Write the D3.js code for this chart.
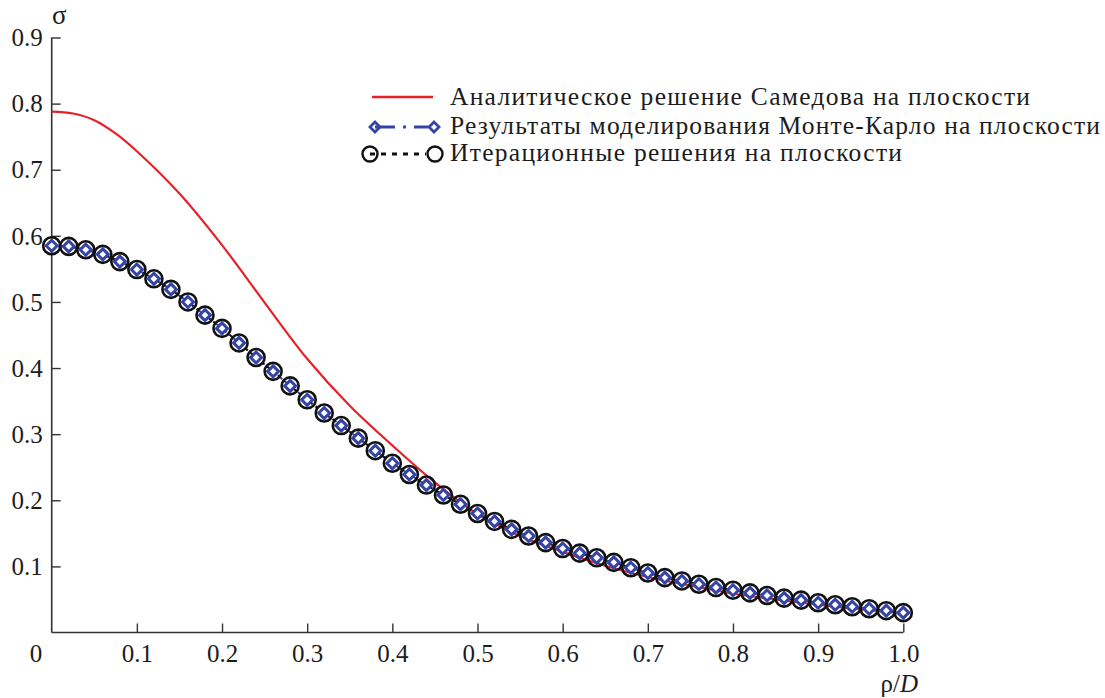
<!DOCTYPE html>
<html>
<head>
<meta charset="utf-8">
<script src="https://cdn.jsdelivr.net/npm/d3@7"></script>
<style>
  html, body { margin: 0; padding: 0; background: #fff; }
  svg text { font-family: "Liberation Serif", "Times New Roman", Times, "DejaVu Serif", serif !important; fill: #1c1c1c; }
</style>
</head>
<body>
<svg id="graph" width="1105" height="698"></svg>
<script>
// rho/D for the red analytic curve
var rhoAnalytic = [0, 0.025, 0.05, 0.075, 0.10, 0.15, 0.20, 0.25, 0.30, 0.35, 0.40, 0.45, 0.50,
  0.55, 0.60, 0.65, 0.70, 0.75, 0.80, 0.85, 0.90, 0.95, 1.00];
var sigmaAnalytic = [0.788, 0.785, 0.775, 0.755, 0.728, 0.664, 0.586, 0.499, 0.414, 0.343, 0.283, 0.227, 0.179,
  0.146, 0.122, 0.101, 0.084, 0.071, 0.059, 0.050, 0.042, 0.035, 0.029];

// rho/D of the marker series (step 0.02)
var rhoPoints = [0, 0.02, 0.04, 0.06, 0.08, 0.10, 0.12, 0.14, 0.16, 0.18, 0.20,
  0.22, 0.24, 0.26, 0.28, 0.30, 0.32, 0.34, 0.36, 0.38, 0.40,
  0.42, 0.44, 0.46, 0.48, 0.50, 0.52, 0.54, 0.56, 0.58, 0.60,
  0.62, 0.64, 0.66, 0.68, 0.70, 0.72, 0.74, 0.76, 0.78, 0.80,
  0.82, 0.84, 0.86, 0.88, 0.90, 0.92, 0.94, 0.96, 0.98, 1.00];
var sigmaMonteCarlo = [0.585, 0.584, 0.579, 0.572, 0.561, 0.549, 0.535, 0.519, 0.500, 0.480, 0.460,
  0.438, 0.416, 0.395, 0.373, 0.352, 0.332, 0.313, 0.294, 0.275, 0.256,
  0.239, 0.223, 0.208, 0.194, 0.180, 0.168, 0.156, 0.146, 0.136, 0.127,
  0.120, 0.113, 0.106, 0.098, 0.090, 0.083, 0.078, 0.073, 0.068, 0.064,
  0.060, 0.056, 0.052, 0.049, 0.045, 0.042, 0.039, 0.036, 0.033, 0.030];
var sigmaIter = [0.585, 0.584, 0.579, 0.572, 0.561, 0.549, 0.535, 0.519, 0.500, 0.480, 0.460,
  0.438, 0.416, 0.395, 0.373, 0.352, 0.332, 0.313, 0.294, 0.275, 0.256,
  0.239, 0.223, 0.208, 0.194, 0.180, 0.168, 0.156, 0.146, 0.136, 0.127,
  0.120, 0.113, 0.106, 0.098, 0.090, 0.083, 0.078, 0.073, 0.068, 0.064,
  0.060, 0.056, 0.052, 0.049, 0.045, 0.042, 0.039, 0.036, 0.033, 0.030];

var xTicks = [0.1, 0.2, 0.3, 0.4, 0.5, 0.6, 0.7, 0.8, 0.9, 1.0];
var yTicks = [0.1, 0.2, 0.3, 0.4, 0.5, 0.6, 0.7, 0.8, 0.9];

var legendLabels = [
  "Аналитическое решение Самедова на плоскости",
  "Результаты моделирования Монте-Карло на плоскости",
  "Итерационные решения на плоскости"
];

var red = "#e8202a", blue = "#3444a6", axisCol = "#333";
var serif = "'Liberation Serif', 'Times New Roman', Times, 'DejaVu Serif', serif";

var svg = d3.select("#graph");

var x = d3.scaleLinear().domain([0, 1]).range([51.7, 903.3]);
var y = d3.scaleLinear().domain([0, 0.9]).range([632.5, 37.5]);

// axes
var xAxis = svg.append("g")
  .attr("transform", "translate(0," + y(0) + ")")
  .call(d3.axisBottom(x).tickValues(xTicks).tickSize(-9).tickPadding(0).tickFormat(d3.format(".1f")));
xAxis.attr("font-family", serif).attr("font-size", 25);
xAxis.select(".domain").attr("stroke", axisCol).attr("stroke-width", 1.6).attr("d", "M" + x(0) + ",0H" + x(1));
xAxis.selectAll(".tick line").attr("stroke", axisCol).attr("stroke-width", 1.4);
xAxis.selectAll(".tick text").attr("y", 29).attr("dy", 0);

var yAxis = svg.append("g")
  .attr("transform", "translate(" + x(0) + ",0)")
  .call(d3.axisLeft(y).tickValues(yTicks).tickSize(-9).tickPadding(0).tickFormat(d3.format(".1f")));
yAxis.attr("font-family", serif).attr("font-size", 25);
yAxis.select(".domain").attr("stroke", axisCol).attr("stroke-width", 1.6).attr("d", "M0," + y(0.9) + "V" + y(0));
yAxis.selectAll(".tick line").attr("stroke", axisCol).attr("stroke-width", 1.4);
yAxis.selectAll(".tick text").attr("x", -9).attr("dy", "0.33em");

// origin label
svg.append("text").attr("x", 36).attr("y", y(0) + 29).attr("text-anchor", "middle")
  .style("font-size", "25px").text("0");

// axis titles
svg.append("text").attr("x", 52).attr("y", 24).style("font-size", "27px").text("σ");
var xt = svg.append("text").attr("x", 918).attr("y", 692).attr("text-anchor", "end").style("font-size", "25px");
xt.append("tspan").text("ρ/");
xt.append("tspan").style("font-style", "italic").text("D");

// analytic curve
var line = d3.line().x(d => x(d[0])).y(d => y(d[1]));
svg.append("path")
  .datum(d3.zip(rhoAnalytic, sigmaAnalytic))
  .attr("fill", "none").attr("stroke", red).attr("stroke-width", 2.2)
  .attr("d", line.curve(d3.curveCatmullRom.alpha(0.5)));

var line2 = d3.line().x(d => x(d[0])).y(d => y(d[1]));
// connecting lines of the marker series
svg.append("path")
  .datum(d3.zip(rhoPoints, sigmaMonteCarlo))
  .attr("fill", "none").attr("stroke", blue).attr("stroke-width", 2)
  .attr("stroke-dasharray", "12,4,3,4").attr("d", line2);
svg.append("path")
  .datum(d3.zip(rhoPoints, sigmaIter))
  .attr("fill", "none").attr("stroke", "#111").attr("stroke-width", 2)
  .attr("stroke-dasharray", "3,4").attr("d", line2);

var diamond = function(cx, cy, s) {
  return "M" + cx + "," + (cy - s) + "L" + (cx + s) + "," + cy + "L" + cx + "," + (cy + s) + "L" + (cx - s) + "," + cy + "Z";
};

// circles (iteration)
svg.append("g").selectAll("circle").data(d3.zip(rhoPoints, sigmaIter)).enter().append("circle")
  .attr("cx", d => x(d[0])).attr("cy", d => y(d[1])).attr("r", 8.5)
  .attr("fill", "none").attr("stroke", "#111").attr("stroke-width", 2.6);

// diamonds (Monte Carlo)
svg.append("g").selectAll("path").data(d3.zip(rhoPoints, sigmaMonteCarlo)).enter().append("path")
  .attr("d", d => diamond(x(d[0]), y(d[1]), 5.5))
  .attr("fill", "#fff").attr("stroke", blue).attr("stroke-width", 3);

// legend
var leg = svg.append("g");
leg.append("line").attr("x1", 372).attr("x2", 433).attr("y1", 97).attr("y2", 97)
  .attr("stroke", red).attr("stroke-width", 2.4);

leg.append("line").attr("x1", 375).attr("x2", 428).attr("y1", 127).attr("y2", 127)
  .attr("stroke", blue).attr("stroke-width", 2.8).attr("stroke-dasharray", "20,8,3,8,20");
leg.append("path").attr("d", diamond(375, 127, 5)).attr("fill", "none").attr("stroke", blue).attr("stroke-width", 2.8);
leg.append("path").attr("d", diamond(434, 127, 5)).attr("fill", "#fff").attr("stroke", blue).attr("stroke-width", 2.8);

leg.append("line").attr("x1", 370).attr("x2", 426).attr("y1", 154).attr("y2", 154)
  .attr("stroke", "#111").attr("stroke-width", 2.8).attr("stroke-dasharray", "5,6");
leg.append("circle").attr("cx", 370).attr("cy", 154).attr("r", 7.5)
  .attr("fill", "none").attr("stroke", "#111").attr("stroke-width", 2.4);
leg.append("circle").attr("cx", 435).attr("cy", 154).attr("r", 7.5)
  .attr("fill", "#fff").attr("stroke", "#111").attr("stroke-width", 2.4);

var legY = [105, 134, 161];
var legW = [580, 650, 452];
leg.selectAll("text.lbl").data(legendLabels).enter().append("text")
  .attr("class", "lbl")
  .attr("x", 450).attr("y", (d, i) => legY[i])
  .attr("textLength", (d, i) => legW[i]).attr("lengthAdjust", "spacing")
  .style("font-size", "25.5px")
  .text(d => d);
</script>
</body>
</html>
